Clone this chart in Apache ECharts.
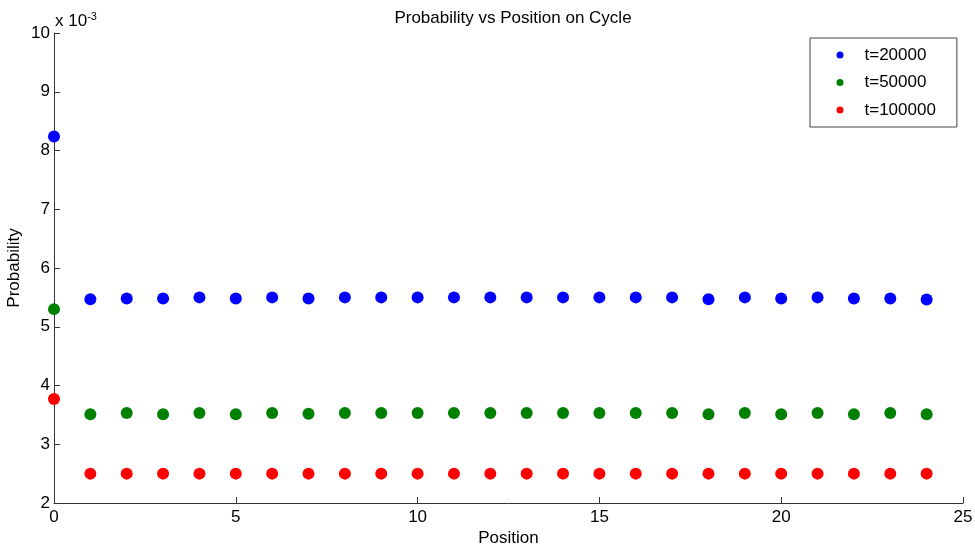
<!DOCTYPE html>
<html>
<head>
<meta charset="utf-8">
<script src="https://cdn.jsdelivr.net/npm/echarts@6/dist/echarts.min.js"></script>
<style>html,body{margin:0;padding:0;background:#fff}#c{width:975px;height:548px}</style>
</head>
<body>
<div id="c"></div>
<script>
// Probability values in units of 1e-3
var positions = [0,1,2,3,4,5,6,7,8,9,10,11,12,13,14,15,16,17,18,19,20,21,22,23,24];
var t20000 = [8.24,5.47,5.48,5.48,5.50,5.48,5.50,5.48,5.50,5.50,5.50,5.50,5.50,5.50,5.50,5.50,5.50,5.50,5.47,5.50,5.48,5.50,5.48,5.48,5.465];
var t50000 = [5.30,3.51,3.53,3.51,3.53,3.51,3.53,3.52,3.53,3.53,3.53,3.53,3.53,3.53,3.53,3.53,3.53,3.53,3.51,3.53,3.51,3.53,3.51,3.53,3.51];
var t100000 = [3.77,2.50,2.50,2.50,2.50,2.50,2.50,2.50,2.50,2.50,2.50,2.50,2.50,2.50,2.50,2.50,2.50,2.50,2.50,2.50,2.50,2.50,2.50,2.50,2.50];
var seriesNames = ['t=20000','t=50000','t=100000'];
var xTicks = {min:0, max:25, interval:5};
var yTicks = {min:2, max:10, interval:1};

function pairs(arr){ return positions.map(function(p,i){ return [p, arr[i]]; }); }

var font = 'Liberation Sans, Arial, sans-serif';
var chart = echarts.init(document.getElementById('c'));
chart.setOption({
  backgroundColor:'#fff',
  animation:false,
  title:{text:'Probability vs Position on Cycle', left:508, top:5, textAlign:'center',
    textStyle:{fontFamily:font, fontSize:17, fontWeight:'normal', color:'#000'}},
  legend:{
    data:seriesNames, orient:'vertical', left:810, top:38,
    icon:'circle', itemWidth:7, itemHeight:7, itemGap:10.5,
    padding:[8.5,21,8.5,26.5], borderColor:'#444', borderWidth:1, backgroundColor:'#fff',
    textStyle:{fontFamily:font, fontSize:17, color:'#000', lineHeight:17, padding:[0,0,0,16]}
  },
  grid:{left:54, right:12, top:33, bottom:45, containLabel:false, outerBoundsMode:'none'},
  xAxis:{
    type:'value', min:xTicks.min, max:xTicks.max, interval:xTicks.interval,
    name:'Position', nameLocation:'middle', nameGap:26.5, nameMoveOverlap:false,
    nameTextStyle:{fontFamily:font, fontSize:17, color:'#000'},
    axisLine:{lineStyle:{color:'#333', width:1}},
    axisTick:{inside:true, length:6, lineStyle:{color:'#333'}},
    axisLabel:{fontFamily:font, fontSize:17, color:'#000', margin:6},
    splitLine:{show:false}
  },
  yAxis:{
    type:'value', min:yTicks.min, max:yTicks.max, interval:yTicks.interval,
    name:'Probability', nameLocation:'middle', nameGap:31, nameRotate:90, nameMoveOverlap:false,
    nameTextStyle:{fontFamily:font, fontSize:17, color:'#000'},
    axisLine:{show:true, lineStyle:{color:'#333', width:1}},
    axisTick:{show:true, inside:true, length:6, lineStyle:{color:'#333'}},
    axisLabel:{fontFamily:font, fontSize:17, color:'#000', margin:4},
    splitLine:{show:false}
  },
  graphic:[{
    type:'text', left:55, top:11,
    style:{
      text:'x 10{s|-3}', fontFamily:font, fontSize:17, fill:'#000',
      rich:{s:{fontFamily:font, fontSize:11, verticalAlign:'top', padding:[0,0,9,0]}}
    }
  }],
  series:[
    {name:seriesNames[0], type:'scatter', data:pairs(t20000), symbolSize:12, itemStyle:{color:'#0000ff', opacity:1}},
    {name:seriesNames[1], type:'scatter', data:pairs(t50000), symbolSize:12, itemStyle:{color:'#008000', opacity:1}},
    {name:seriesNames[2], type:'scatter', data:pairs(t100000), symbolSize:12, itemStyle:{color:'#ff0000', opacity:1}}
  ]
});
</script>
</body>
</html>
